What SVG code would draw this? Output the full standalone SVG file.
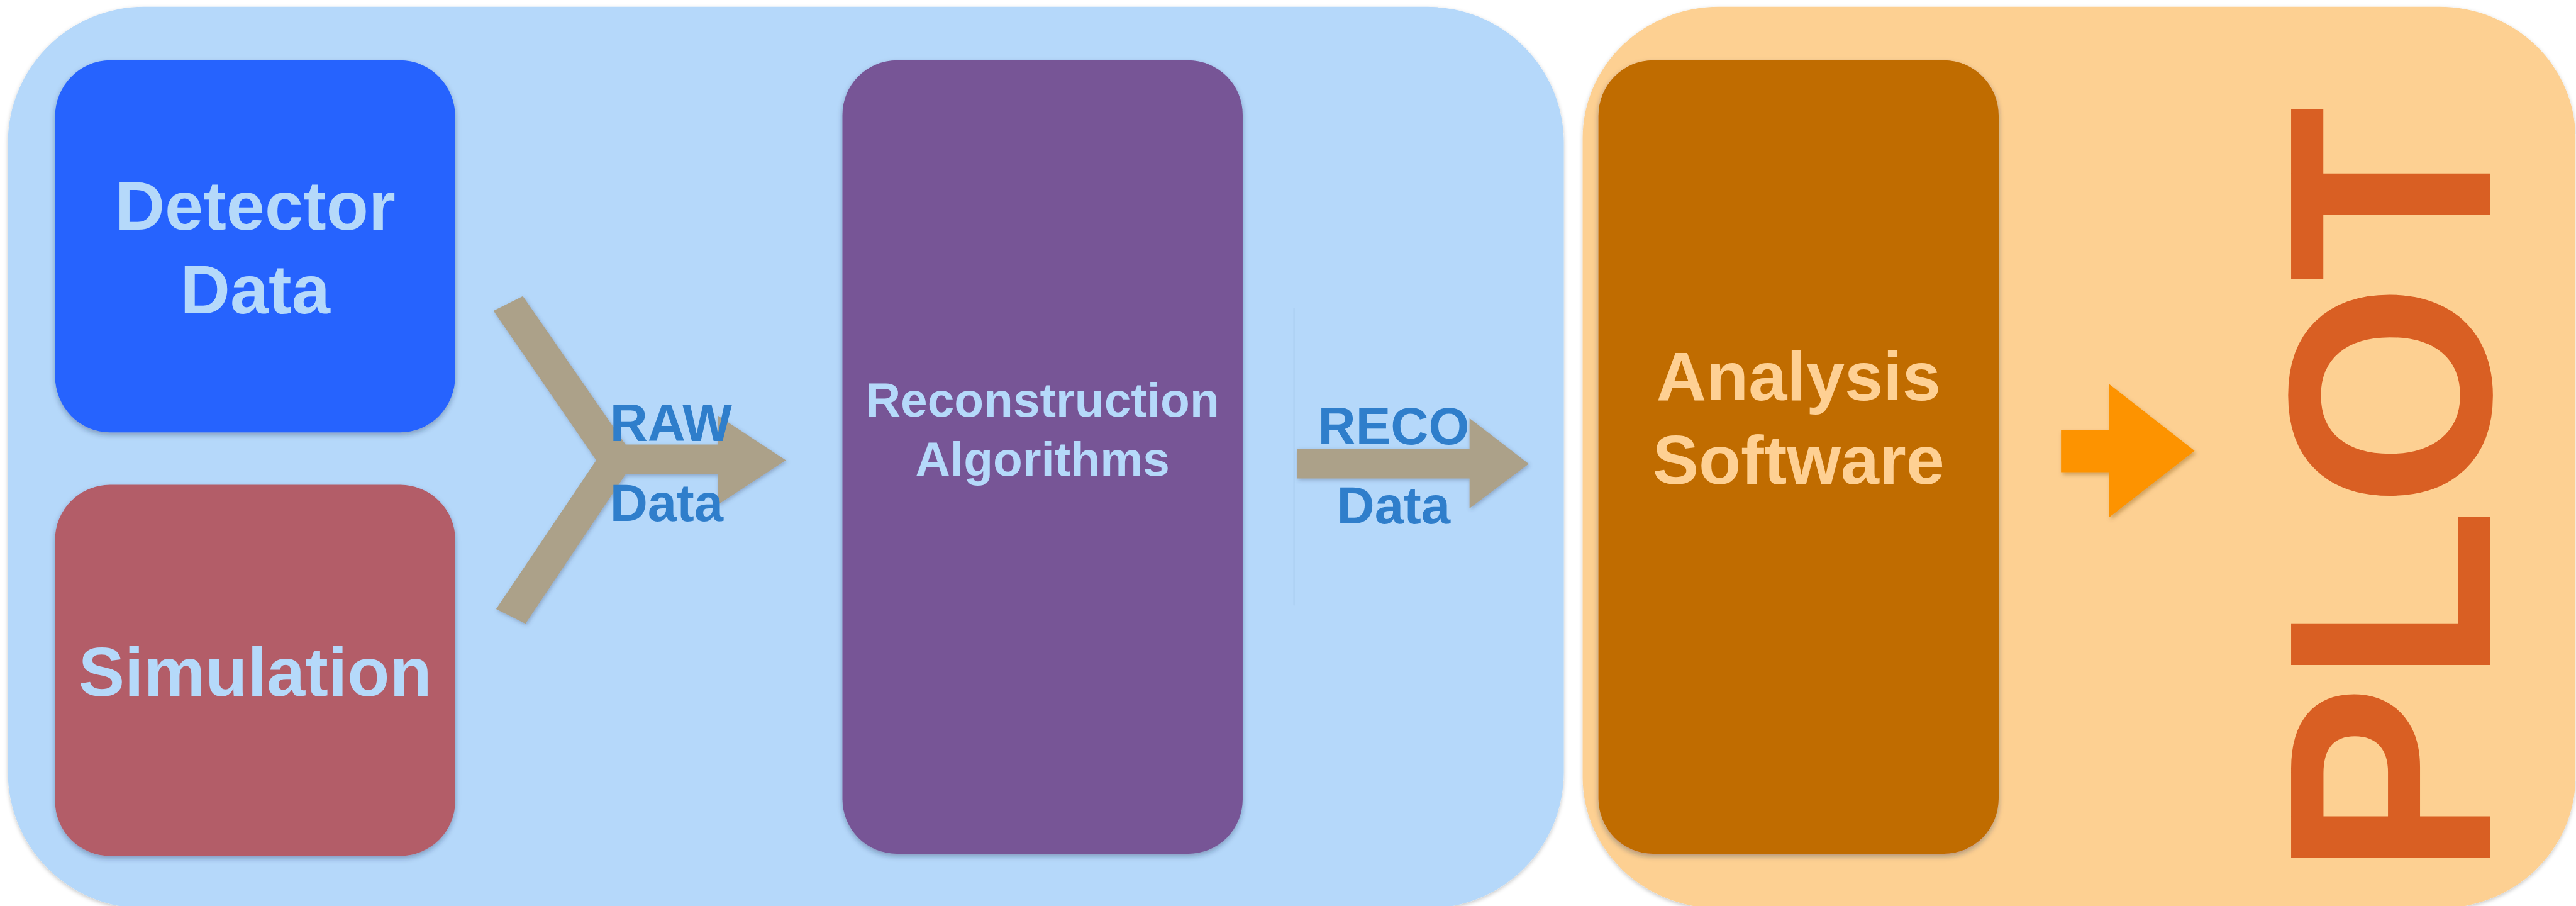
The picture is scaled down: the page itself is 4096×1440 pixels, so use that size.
<svg xmlns="http://www.w3.org/2000/svg" width="4096" height="1440" viewBox="0 0 4096 1440">
  <defs>
    <filter id="panelShadow" x="-5%" y="-5%" width="110%" height="110%">
      <feDropShadow dx="0" dy="3" stdDeviation="4" flood-color="#000" flood-opacity="0.22"/>
    </filter>
    <filter id="boxShadow" x="-10%" y="-10%" width="120%" height="120%">
      <feDropShadow dx="0" dy="5" stdDeviation="5" flood-color="#1a2a50" flood-opacity="0.35"/>
    </filter>
    <filter id="arrowShadow" x="-20%" y="-20%" width="140%" height="140%">
      <feDropShadow dx="2" dy="3" stdDeviation="4" flood-color="#3a4a70" flood-opacity="0.35"/>
    </filter>
    <filter id="orangeShadow" x="-20%" y="-20%" width="140%" height="140%">
      <feDropShadow dx="3" dy="5" stdDeviation="4" flood-color="#7a4a10" flood-opacity="0.35"/>
    </filter>
  </defs>
  <style>
    text { font-family: "Liberation Sans", Arial, Helvetica, sans-serif; font-weight: bold; }
    .node-label { font-size: 132px; fill: #B5D9FA; text-anchor: middle; }
    .reco-label { font-size: 92px; fill: #B5D9FA; text-anchor: middle; }
    .ana-label { font-size: 132px; fill: #FED093; text-anchor: middle; }
    .edge-label { font-size: 100px; fill: #2F7ECB; }
    .flow { fill: #ACA189; filter: url(#arrowShadow); }
  </style>

  <g transform="scale(0.83303)">
    <!-- background panels -->
    <g id="processing-panel">
      <rect x="15" y="13" width="2970" height="1720" rx="260" ry="260" fill="#B5D8FA" filter="url(#panelShadow)"/>
    </g>
    <g id="analysis-panel">
      <rect x="3021" y="13" width="1895" height="1720" rx="260" ry="250" fill="#FDD092" filter="url(#panelShadow)"/>
    </g>

    <!-- source nodes -->
    <g id="detector-data">
      <rect x="105" y="115" width="764" height="710" rx="105" ry="108" fill="#2663FE" filter="url(#boxShadow)"/>
      <text class="node-label" x="487" y="438">Detector</text>
      <text class="node-label" x="487" y="598">Data</text>
    </g>
    <g id="simulation">
      <rect x="105" y="925" width="764" height="708" rx="105" ry="105" fill="#B35D68" filter="url(#boxShadow)"/>
      <text class="node-label" x="487" y="1328">Simulation</text>
    </g>

    <g id="reconstruction">
      <rect x="1608" y="115" width="764" height="1514" rx="104" ry="104" fill="#775496" filter="url(#boxShadow)"/>
      <text class="reco-label" x="1990" y="795">Reconstruction</text>
      <text class="reco-label" x="1990" y="907">Algorithms</text>
    </g>

    <g id="analysis-software">
      <rect x="3051" y="115" width="764" height="1514" rx="104" ry="106" fill="#C06C00" filter="url(#boxShadow)"/>
      <text class="ana-label" x="3433" y="763">Analysis</text>
      <text class="ana-label" x="3433" y="923">Software</text>
    </g>

    <g id="plot">
      <text x="0" y="0" transform="translate(4753,1674) rotate(-90)" font-size="552" fill="#D95F23">PLOT</text>
    </g>

    <!-- connectors -->
    <g id="connectors">
      <!-- merging RAW data arrow -->
      <polygon class="flow" points="942,593 998,565 1194,848 1370,848 1370,793 1500,878 1370,963 1370,905 1194,905 1003,1190 947,1162 1138,878"/>
      <!-- RECO data arrow -->
      <line x1="2470" y1="587" x2="2470" y2="1155" stroke="#A9CDF0" stroke-width="3" opacity="0.6"/>
      <polygon class="flow" points="2476,856 2805,856 2805,798 2918,885 2805,970 2805,913 2476,913"/>
      <!-- analysis to plot arrow -->
      <polygon points="3934,820 4026,820 4026,733 4189,860 4026,987 4026,901 3934,901" fill="#FD9300" filter="url(#orangeShadow)"/>

      <text class="edge-label" x="1164" y="841">RAW</text>
      <text class="edge-label" x="1164" y="994">Data</text>
      <text class="edge-label" x="2660" y="847" text-anchor="middle">RECO</text>
      <text class="edge-label" x="2660" y="999" text-anchor="middle">Data</text>
    </g>
  </g>
</svg>
